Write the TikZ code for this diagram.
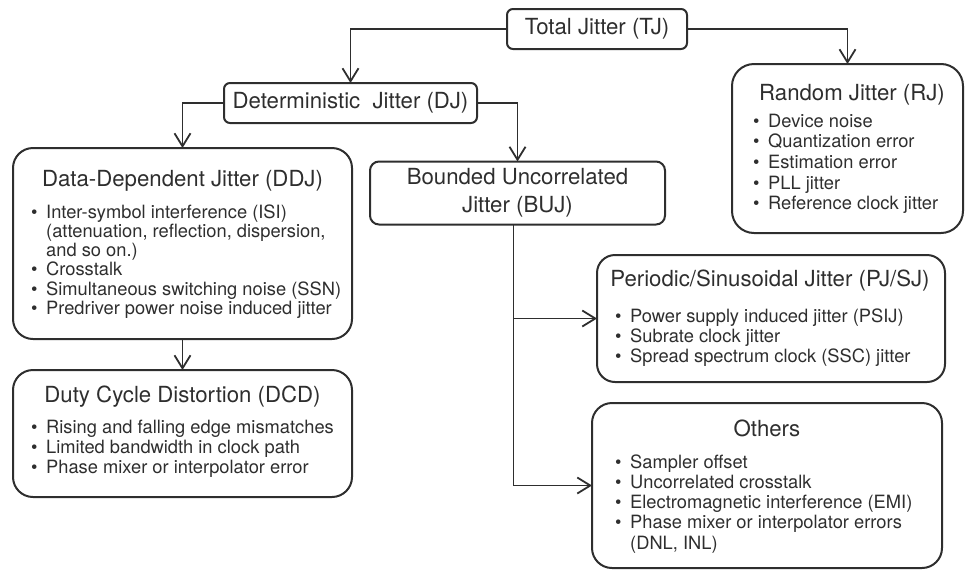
\documentclass[tikz,border=0pt]{standalone}
\usepackage{fontspec}
\setmainfont{TeX Gyre Heros}
\usetikzlibrary{arrows.meta}

\definecolor{ink}{HTML}{2E2E2E}

% type sizes for box titles and bullet items
\newcommand\hdfont{\fontsize{22.2}{28}\selectfont}
\newcommand\itfont{\fontsize{18.3}{20}\selectfont}
% a bullet with its hanging indent, and the indent alone for wrapped lines
\newcommand\blt{\makebox[15pt][l]{\textbullet}}
\newcommand\cont{\hspace*{15pt}}
% rows of a bullet list with a fixed baseline pitch; baseline = first row
\newcommand\bulletrows[2]{\vtop{\baselineskip=#1\relax\lineskiplimit=-100pt\lineskip=0pt
  \halign{##\hfil\cr#2\crcr}}}

\tikzset{
  box/.style={draw=ink, line width=2pt, inner sep=0pt, outer sep=0pt, text=ink},
  link/.style={draw=ink, line width=1.8pt, -{Straight Barb[length=13pt,width=16pt]}},
  head/.style={anchor=base, inner sep=0pt, text=ink, font=\hdfont},
  items/.style={anchor=base west, inner sep=0pt, text=ink, font=\itfont},
}

\begin{document}
\begin{tikzpicture}[x=1pt, y=-1pt]
\useasboundingbox (0,0) rectangle (965,571);

% ---- boxes ----
\node[box, rounded corners=6pt, minimum width=180pt, minimum height=40pt, font=\hdfont]
  (TJ) at (597,29) {Total Jitter (TJ)};
\node[box, rounded corners=6pt, minimum width=253pt, minimum height=40pt, font=\hdfont]
  (DJ) at (350.5,103) {Deterministic\ \ Jitter (DJ)};
\node[box, rounded corners=22pt, minimum width=231pt, minimum height=169pt]
  (RJ) at (847.5,148.5) {};
\node[box, rounded corners=20pt, minimum width=339pt, minimum height=191pt]
  (DDJ) at (182.5,243.5) {};
\node[box, rounded corners=9pt, minimum width=295pt, minimum height=63pt,
      align=center, font=\hdfont]
  (BUJ) at (517.5,193) {Bounded Uncorrelated\\Jitter (BUJ)};
\node[box, rounded corners=20pt, minimum width=339pt, minimum height=127pt]
  (DCD) at (182.5,433.5) {};
\node[box, rounded corners=18pt, minimum width=348pt, minimum height=127pt]
  (PJ) at (771,318.5) {};
\node[box, rounded corners=20pt, minimum width=350pt, minimum height=165pt]
  (OT) at (767,485.5) {};

% ---- titles ----
\node[head] (RJh)  at (852,100) {Random Jitter (RJ)};
\node[head] (DDJh) at (182.5,186) {Data-Dependent Jitter (DDJ)};
\node[head] (DCDh) at (182.5,402) {Duty Cycle Distortion (DCD)};
\node[head] (PJh)  at (770,286) {Periodic/Sinusoidal Jitter (PJ/SJ)};
\node[head] (OTh)  at (767,436) {Others};

% ---- bullet items ----
\node[items] (RJl) at (753,127) {\bulletrows{20.7pt}{%
  \blt Device noise\cr
  \blt Quantization error\cr
  \blt Estimation error\cr
  \blt PLL jitter\cr
  \blt Reference clock jitter}};
\node[items] (DDJl) at (31,218) {\bulletrows{19.3pt}{%
  \blt Inter-symbol interference (ISI)\cr
  \cont (attenuation, reflection, dispersion,\cr
  \cont and so on.)\cr
  \blt Crosstalk\cr
  \blt Simultaneous switching noise (SSN)\cr
  \blt Predriver power noise induced jitter}};
\node[items] (DCDl) at (31,433) {\bulletrows{20pt}{%
  \blt Rising and falling edge mismatches\cr
  \blt Limited bandwidth in clock path\cr
  \blt Phase mixer or interpolator error}};
\node[items] (PJl) at (615,322) {\bulletrows{20pt}{%
  \blt Power supply induced jitter (PSIJ)\cr
  \blt Subrate clock jitter\cr
  \blt Spread spectrum clock (SSC) jitter}};
\node[items] (OTl) at (615,468) {\bulletrows{20.3pt}{%
  \blt Sampler offset\cr
  \blt Uncorrelated crosstalk\cr
  \blt Electromagnetic interference (EMI)\cr
  \blt Phase mixer or interpolator errors\cr
  \cont (DNL, INL)}};

% ---- connectors ----
\draw[link] (TJ.west) -| (DJ.north);
\draw[link] (TJ.east) -| (RJ.north);
\draw[link] (DJ.west) -| (DDJ.north);
\draw[link] (DJ.east) -| (BUJ.north);
\draw[link] (DDJ.south) -- (DCD.north);
\coordinate (trunk) at ([xshift=-4pt]BUJ.south);
\draw[link] (trunk) |- (PJ.west);
\draw[link] (trunk) |- (OT.west);
\end{tikzpicture}
\end{document}
